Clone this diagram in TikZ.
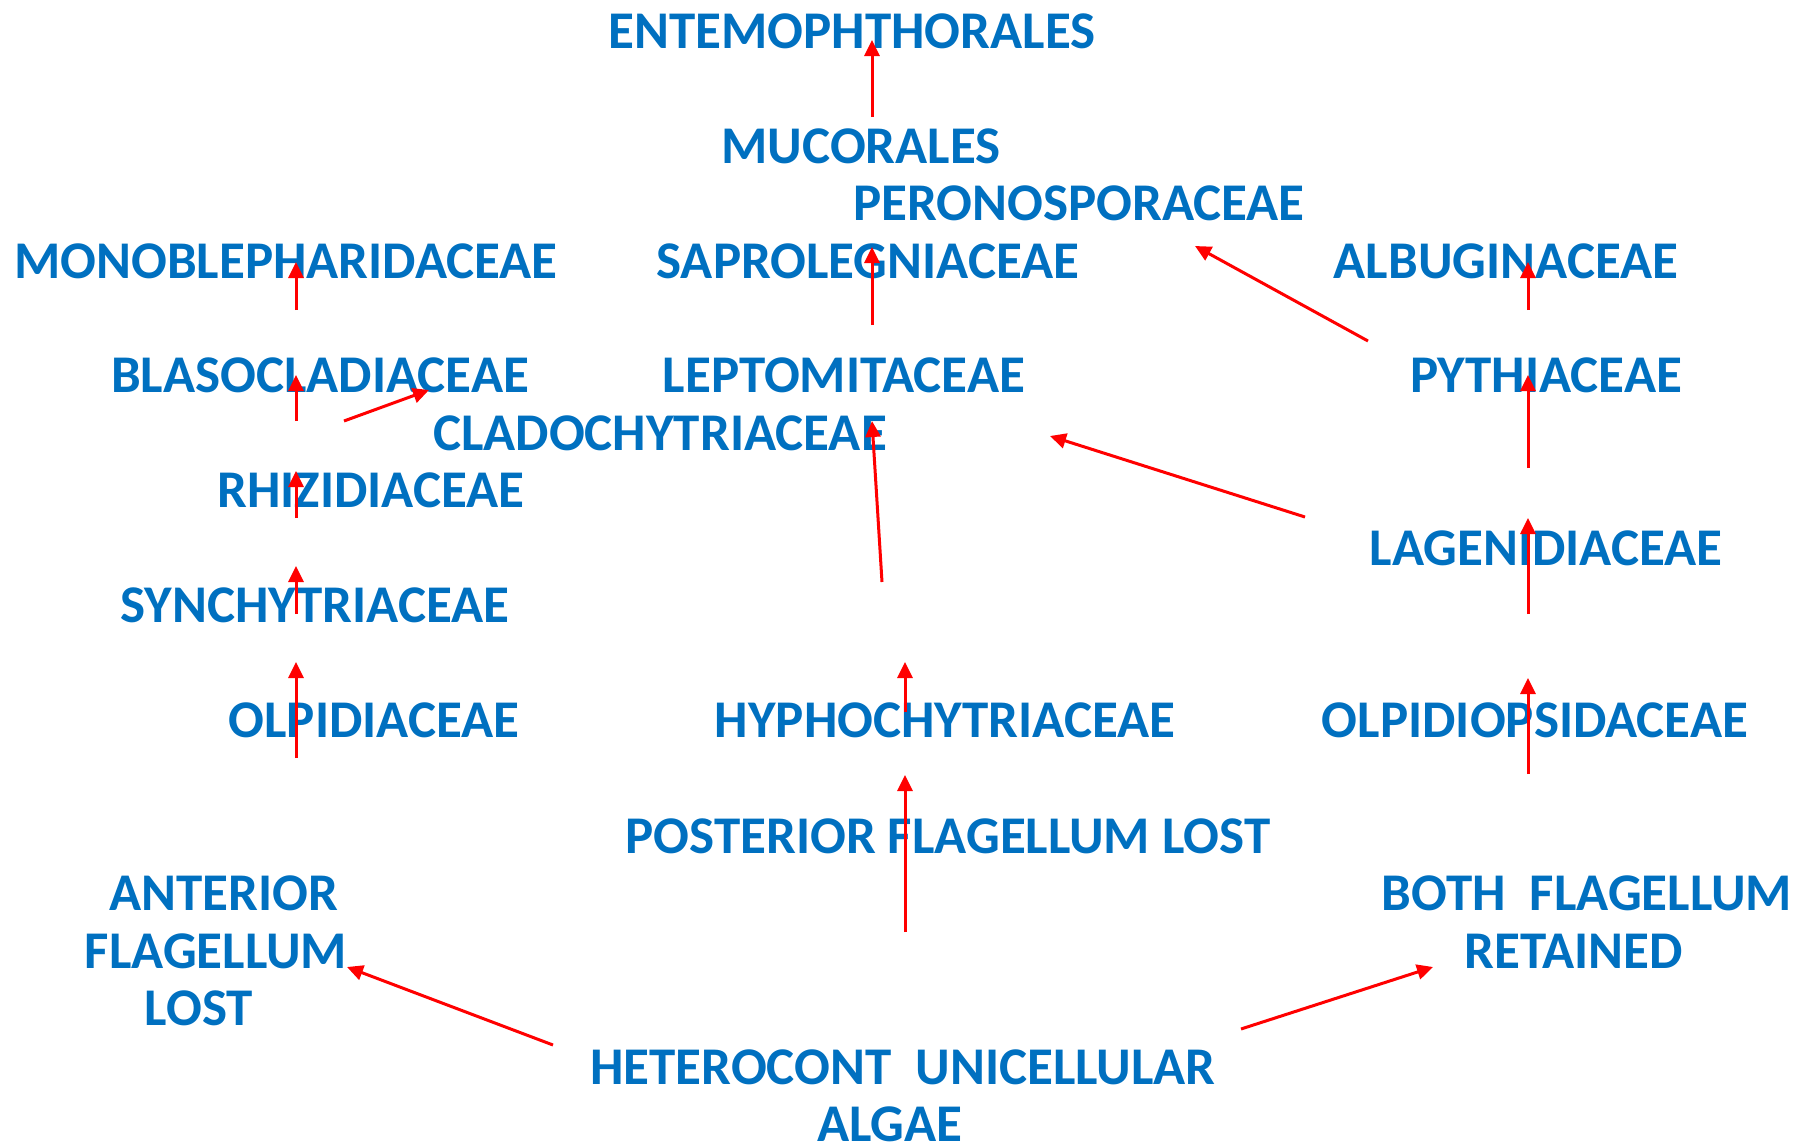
\documentclass[tikz,border=0pt]{standalone}
\usepackage{fontspec}
\setmainfont{Carlito}
\usetikzlibrary{arrows.meta}
\definecolor{tblue}{HTML}{0070C0}
\definecolor{tred}{HTML}{FF0000}
\begin{document}
\begin{tikzpicture}[x=1pt,y=-1pt,
  lbl/.style={text=tblue, font=\fontsize{53}{60}\selectfont\bfseries, inner sep=0pt, anchor=center},
  arr/.style={draw=tred, line width=3pt, -{Triangle[length=16pt,width=15pt]}}]
\useasboundingbox (0,0) rectangle (1800,1146);
% labels
\node[lbl] (ento) at (852,31) {ENTEMOPHTHORALES};
\node[lbl] (muco) at (861,146) {MUCORALES};
\node[lbl] (pero) at (1079,203) {PERONOSPORACEAE};
\node[lbl] (mono) at (286,261) {MONOBLEPHARIDACEAE};
\node[lbl] (sapr) at (868,261) {SAPROLEGNIACEAE};
\node[lbl] (albu) at (1506,261) {ALBUGINACEAE};
\node[lbl] (blas) at (320,375) {BLASOCLADIACEAE};
\node[lbl] (lept) at (844,375) {LEPTOMITACEAE};
\node[lbl] (pyth) at (1546,375) {PYTHIACEAE};
\node[lbl] (clad) at (660,433) {CLADOCHYTRIACEAE};
\node[lbl] (rhiz) at (371,490) {RHIZIDIACEAE};
\node[lbl] (lage) at (1546,548) {LAGENIDIACEAE};
\node[lbl] (sync) at (315,605) {SYNCHYTRIACEAE};
\node[lbl] (olpi) at (374,720) {OLPIDIACEAE};
\node[lbl] (hyph) at (945,720) {HYPHOCHYTRIACEAE};
\node[lbl] (olps) at (1535,720) {OLPIDIOPSIDACEAE};
\node[lbl] (post) at (948,836) {POSTERIOR FLAGELLUM LOST};
\node[lbl] (anta) at (224,893) {ANTERIOR};
\node[lbl] (antb) at (216,951) {FLAGELLUM};
\node[lbl] (antc) at (199,1008) {LOST};
\node[lbl] (both) at (1587,893) {BOTH\ \ FLAGELLUM};
\node[lbl] (reta) at (1574,951) {RETAINED};
\node[lbl] (hete) at (903,1067) {HETEROCONT\ \ UNICELLULAR};
\node[lbl] (alga) at (890,1124) {ALGAE};
% arrow end points
\coordinate (a1s) at (872,117);  \coordinate (a1e) at (872,40);
\coordinate (a2s) at (872,325);  \coordinate (a2e) at (872,247);
\coordinate (a3s) at (1368,341); \coordinate (a3e) at (1195,246);
\coordinate (a4s) at (1528,310); \coordinate (a4e) at (1528,262);
\coordinate (a5s) at (1528,468); \coordinate (a5e) at (1528,375);
\coordinate (a6s) at (296,310);  \coordinate (a6e) at (296,262);
\coordinate (a7s) at (296,421);  \coordinate (a7e) at (296,375);
\coordinate (a8s) at (344,421);  \coordinate (a8e) at (429,390);
\coordinate (a9s) at (296,518);  \coordinate (a9e) at (296,471);
\coordinate (a10s) at (296,614); \coordinate (a10e) at (296,566);
\coordinate (a11s) at (296,758); \coordinate (a11e) at (296,662);
\coordinate (a12s) at (882,582); \coordinate (a12e) at (872,421);
\coordinate (a13s) at (1305,517); \coordinate (a13e) at (1050,436);
\coordinate (a14s) at (1528,614); \coordinate (a14e) at (1528,518);
\coordinate (a15s) at (1528,774); \coordinate (a15e) at (1528,678);
\coordinate (a16s) at (905,712); \coordinate (a16e) at (905,662);
\coordinate (a17s) at (905,932); \coordinate (a17e) at (905,775);
\coordinate (a18s) at (553,1045); \coordinate (a18e) at (347,967);
\coordinate (a19s) at (1241,1029); \coordinate (a19e) at (1433,967);
\foreach \i in {1,...,19} { \draw[arr] (a\i s) -- (a\i e); }
\end{tikzpicture}
\end{document}
